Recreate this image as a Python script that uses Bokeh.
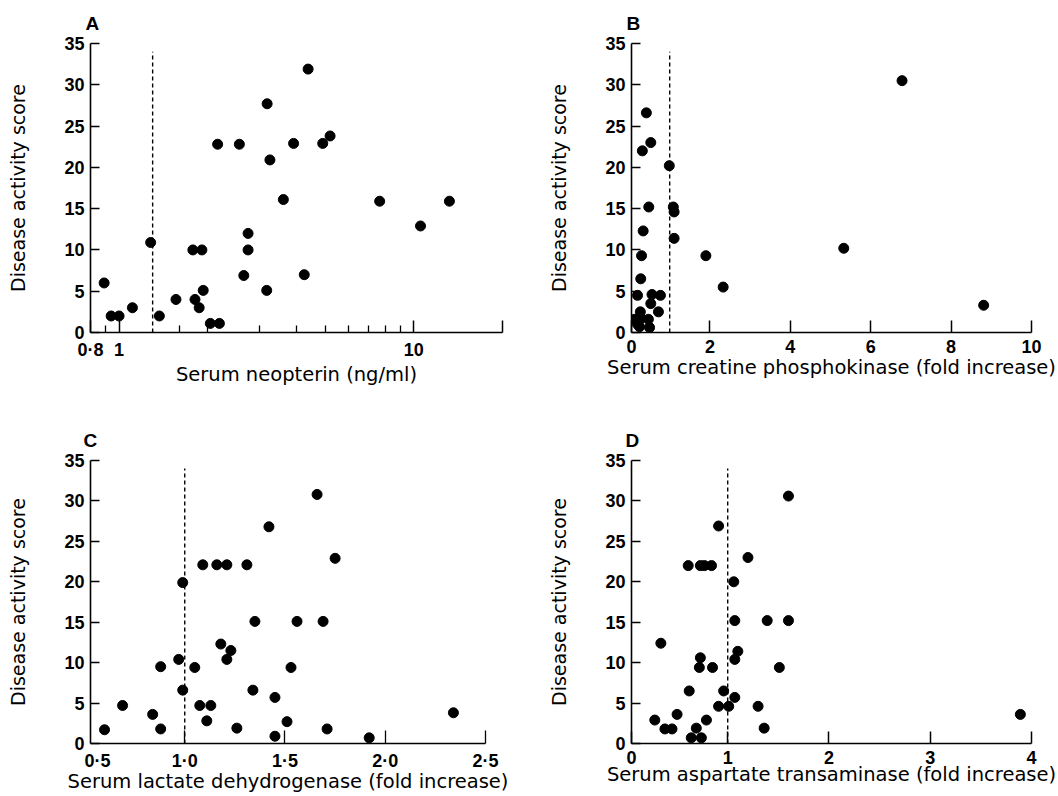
from bokeh.plotting import figure
from bokeh.layouts import column, row
from bokeh.models import FixedTicker, Range1d
from bokeh.embed import file_html
from bokeh.resources import INLINE

# ---------------- data ----------------
y_label = "Disease activity score"
y_ticks = [0, 5, 10, 15, 20, 25, 30, 35]
dash_top = 34

# A: serum neopterin (log axis)
a_label = "Serum neopterin (ng/ml)"
a_cutoff = 1.3
a_x = [0.89, 0.94, 1.0, 1.11, 1.28, 1.37, 1.56, 1.78, 1.91, 1.81, 1.87, 1.93, 2.04, 2.19,
       2.16, 2.56, 2.65, 2.74, 2.74, 3.18, 3.25, 3.17, 3.61, 3.91, 4.25, 4.38, 4.91, 5.20,
       7.66, 10.54, 13.21]
a_y = [6, 2, 2, 3, 10.9, 2, 4, 10, 10, 4, 3, 5.1, 1.1, 1.1,
       22.8, 22.8, 6.9, 12, 10, 27.7, 20.9, 5.1, 16.1, 22.9, 7, 31.9, 22.9, 23.8,
       15.9, 12.9, 15.9]
a_tick_vals = [0.8, 1, 10, 20]
a_tick_text = ["0·8", "1", "10", ""]
a_minor = [0.9, 1.6, 2, 3, 4, 5, 6, 7, 8, 9]

# B: creatine phosphokinase
b_label = "Serum creatine phosphokinase (fold increase)"
b_cutoff = 1.0
b_x = [6.78, 0.42, 0.53, 0.32, 0.99, 0.48, 1.09, 1.11, 0.34, 1.11, 5.33, 1.90, 0.30, 0.28,
       2.33, 8.81, 0.20, 0.56, 0.77, 0.53, 0.72, 0.27, 0.13, 0.28, 0.47, 0.25, 0.50, 0.20]
b_y = [30.5, 26.6, 23.0, 22.0, 20.2, 15.2, 15.2, 14.6, 12.3, 11.4, 10.2, 9.3, 9.3, 6.5,
       5.5, 3.3, 4.5, 4.6, 4.5, 3.5, 2.5, 2.5, 1.6, 1.7, 1.6, 0.7, 0.6, 1.0]
b_tick_vals = [0.05, 2, 4, 6, 8, 10]
b_tick_text = ["0", "2", "4", "6", "8", "10"]

# C: lactate dehydrogenase
c_label = "Serum lactate dehydrogenase (fold increase)"
c_cutoff = 1.0
c_x = [0.60, 0.69, 0.84, 0.88, 0.88, 0.97, 0.99, 0.99, 1.05, 1.075, 1.09, 1.11, 1.13, 1.16,
       1.21, 1.18, 1.23, 1.21, 1.31, 1.26, 1.34, 1.35, 1.42, 1.45, 1.45, 1.53, 1.51, 1.56,
       1.66, 1.69, 1.71, 1.75, 1.92, 2.34]
c_y = [1.7, 4.7, 3.6, 9.5, 1.8, 10.4, 19.9, 6.6, 9.4, 4.7, 22.1, 2.8, 4.7, 22.1,
       22.1, 12.3, 11.5, 10.4, 22.1, 1.9, 6.6, 15.1, 26.8, 5.7, 0.9, 9.4, 2.7, 15.1,
       30.8, 15.1, 1.8, 22.9, 0.7, 3.8]
c_tick_vals = [0.565, 1.0, 1.5, 2.0, 2.5]
c_tick_text = ["0·5", "1·0", "1·5", "2·0", "2·5"]
c_marks = [1.0, 1.5, 2.0, 2.5]

# D: aspartate transaminase
d_label = "Serum aspartate transaminase (fold increase)"
d_cutoff = 1.0
d_x = [1.60, 0.91, 0.61, 0.73, 0.77, 0.84, 1.20, 1.06, 1.07, 1.39, 1.60, 0.34, 0.73, 0.72,
       0.85, 1.10, 1.07, 1.51, 0.62, 0.96, 1.07, 0.91, 1.01, 1.30, 0.28, 0.50, 0.38, 0.45,
       0.69, 0.79, 1.36, 0.64, 0.74, 3.89]
d_y = [30.6, 26.9, 22.0, 22.0, 22.0, 22.0, 23.0, 20.0, 15.2, 15.2, 15.2, 12.4, 10.6, 9.4,
       9.4, 11.4, 10.4, 9.4, 6.5, 6.5, 5.7, 4.6, 4.6, 4.6, 2.9, 3.6, 1.8, 1.8,
       1.9, 2.9, 1.9, 0.7, 0.7, 3.6]
d_tick_vals = [0.05, 1, 2, 3, 4]
d_tick_text = ["0", "1", "2", "3", "4"]

LABEL_FONT = "DejaVu Sans"
TICK_FONT = "Liberation Sans"


def make_panel(letter, xlabel, xs, ys, xr, xtype, cutoff, tick_vals, tick_text,
               minor, major_in, minor_in, borders, xlabel_standoff, letter_dx):
    left, right, top, bottom = borders
    p = figure(width=529, height=398, x_axis_type=xtype,
               x_range=Range1d(*xr), y_range=Range1d(0, 35),
               output_backend="svg", toolbar_location=None, title=letter,
               min_border_left=left, min_border_right=right,
               min_border_top=top, min_border_bottom=bottom)
    p.outline_line_color = None
    p.background_fill_color = "white"
    p.border_fill_color = "white"
    p.xgrid.visible = False
    p.ygrid.visible = False

    p.title.text_font = TICK_FONT
    p.title.text_font_style = "bold"
    p.title.text_font_size = "19px"
    p.title.text_color = "black"
    p.title.align = "left"
    p.title.offset = letter_dx
    p.title.standoff = 20

    for ax in (p.xaxis[0], p.yaxis[0]):
        ax.axis_line_width = 1.6
        ax.axis_line_color = "black"
        ax.major_tick_line_width = 1.5
        ax.minor_tick_line_width = 1.3
        ax.major_tick_line_color = "black"
        ax.minor_tick_line_color = "black"
        ax.major_tick_out = 0
        ax.minor_tick_out = 0
        ax.major_label_text_font = TICK_FONT
        ax.major_label_text_font_style = "bold"
        ax.major_label_text_font_size = "18px"
        ax.major_label_text_color = "black"
        ax.axis_label_text_font = LABEL_FONT
        ax.axis_label_text_font_style = "normal"
        ax.axis_label_text_color = "black"

    xa = p.xaxis[0]
    xa.ticker = FixedTicker(ticks=tick_vals, minor_ticks=minor)
    xa.major_label_overrides = dict(zip(tick_vals, tick_text))
    xa.major_tick_in = major_in
    xa.minor_tick_in = minor_in
    xa.major_label_standoff = 7
    xa.axis_label = xlabel
    xa.axis_label_text_font_size = "19.5px"
    xa.axis_label_standoff = xlabel_standoff

    ya = p.yaxis[0]
    ya.ticker = FixedTicker(ticks=y_ticks)
    ya.major_tick_in = 9
    ya.minor_tick_line_color = None
    ya.major_label_standoff = 6
    ya.axis_label = y_label
    ya.axis_label_text_font_size = "19px"
    ya.axis_label_standoff = 32

    p.segment(x0=[cutoff], y0=[0], x1=[cutoff], y1=[dash_top],
              line_color="black", line_width=1.4, line_dash="4 3")
    p.scatter(xs, ys, size=10, color="black")
    return p


pA = make_panel("A", a_label, a_x, a_y, (0.8, 20), "log", a_cutoff,
                a_tick_vals, a_tick_text, a_minor, 12, 7,
                (90, 27, 43, 66), 0, -5)
pB = make_panel("B", b_label, b_x, b_y, (0.05, 10), "linear", b_cutoff,
                b_tick_vals, b_tick_text, [], 12, 0,
                (102, 27, 43, 65), 0, -5)
pC = make_panel("C", c_label, c_x, c_y, (0.53, 2.5), "linear", c_cutoff,
                c_tick_vals, c_tick_text, c_marks, 0, 13,
                (90, 44, 61, 53), -4, -7)
pD = make_panel("D", d_label, d_x, d_y, (0.05, 4.0), "linear", d_cutoff,
                d_tick_vals, d_tick_text, [], 12, 0,
                (102, 27, 62, 52), -4, -6)

layout = column(row(pA, pB), row(pC, pD))
open("out.html", "w").write(file_html(layout, INLINE))
